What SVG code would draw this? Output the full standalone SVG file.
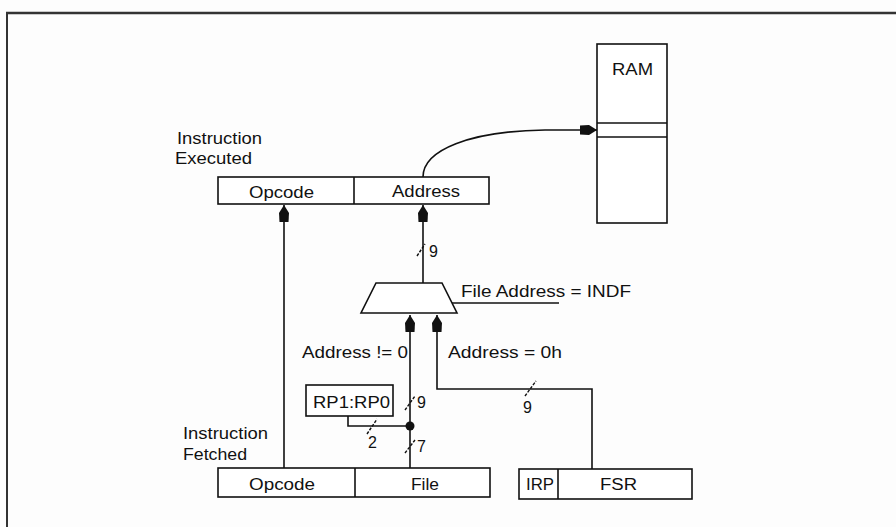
<svg xmlns="http://www.w3.org/2000/svg" width="896" height="527" viewBox="0 0 896 527">
<style>
text{font-family:"Liberation Sans",Arial,sans-serif;font-size:16px;fill:#111}
.c{text-anchor:middle}
.box{fill:#fff;stroke:#111;stroke-width:1.6}
.ln{fill:none;stroke:#111;stroke-width:1.6}
.sl{fill:none;stroke:#111;stroke-width:1.4;stroke-dasharray:3 1.5}
</style>
<defs>
<marker id="ah" markerUnits="userSpaceOnUse" viewBox="-18 -6 18 12" refX="0" refY="0" markerWidth="18" markerHeight="12" orient="auto">
<path d="M0,0 L-8,-5 L-17,-4.5 L-17,4.5 L-8,5 Z" fill="#111"/>
</marker>
</defs>
<rect width="896" height="527" fill="#fdfdfd"/>
<g id="frame">
<line x1="6" y1="13" x2="896" y2="13" stroke="#333" stroke-width="2.4"/>
<line x1="7" y1="12" x2="7" y2="527" stroke="#333" stroke-width="2"/>
</g>
<g id="ram">
<rect class="box" x="597" y="44" width="70" height="179"/>
<line class="ln" x1="597" y1="123" x2="667" y2="123"/>
<line class="ln" x1="597" y1="137" x2="667" y2="137"/>
<text x="612" y="75" textLength="41" lengthAdjust="spacingAndGlyphs">RAM</text>
</g>
<g id="exec-label">
<text x="177" y="144" textLength="85" lengthAdjust="spacingAndGlyphs">Instruction</text>
<text x="175" y="164" textLength="77" lengthAdjust="spacingAndGlyphs">Executed</text>
</g>
<g id="exec-reg">
<rect class="box" x="218" y="177" width="271" height="27"/>
<line class="ln" x1="354" y1="177" x2="354" y2="204"/>
<text x="249" y="198" textLength="65" lengthAdjust="spacingAndGlyphs">Opcode</text>
<text x="392" y="197" textLength="68" lengthAdjust="spacingAndGlyphs">Address</text>
</g>
<g id="mux">
<path class="box" d="M376,283 L442,283 L457,313 L361,313 Z"/>
<text x="461" y="297" textLength="170" lengthAdjust="spacingAndGlyphs">File Address = INDF</text>
</g>
<g id="rp">
<rect class="box" x="306" y="385" width="87" height="31"/>
<text x="313" y="408" textLength="77" lengthAdjust="spacingAndGlyphs">RP1:RP0</text>
</g>
<g id="fetch-label">
<text x="183" y="439" textLength="85" lengthAdjust="spacingAndGlyphs">Instruction</text>
<text x="183" y="460" textLength="64" lengthAdjust="spacingAndGlyphs">Fetched</text>
</g>
<g id="fetch-reg">
<rect class="box" x="218" y="468" width="272" height="29"/>
<line class="ln" x1="355" y1="468" x2="355" y2="497"/>
<text x="249" y="490" textLength="66" lengthAdjust="spacingAndGlyphs">Opcode</text>
<text x="411" y="490" textLength="28" lengthAdjust="spacingAndGlyphs">File</text>
</g>
<g id="fsr">
<rect class="box" x="519" y="469" width="173" height="30"/>
<line class="ln" x1="558" y1="469" x2="558" y2="499"/>
<text x="526" y="490" textLength="28" lengthAdjust="spacingAndGlyphs">IRP</text>
<text x="600" y="490" textLength="37" lengthAdjust="spacingAndGlyphs">FSR</text>
</g>
<g id="connectors">
<path class="ln" d="M423,177 C423,150 470,131 545,130 L597,130" marker-end="url(#ah)"/>
<line class="ln" x1="284" y1="468" x2="284" y2="205" marker-end="url(#ah)"/>
<line class="ln" x1="423" y1="283" x2="423" y2="205" marker-end="url(#ah)"/>
<line class="ln" x1="452" y1="303" x2="559" y2="303"/>
<line class="ln" x1="410" y1="468" x2="410" y2="315" marker-end="url(#ah)"/>
<path class="ln" d="M592,469 L592,389 L437,389 L437,315" marker-end="url(#ah)"/>
<path class="ln" d="M348,416 L348,426 L410,426"/>
<circle cx="410" cy="426" r="4.5" fill="#111"/>
<line class="sl" x1="417" y1="256" x2="425" y2="244"/>
<line class="sl" x1="405" y1="410" x2="415" y2="396"/>
<line class="sl" x1="405" y1="453" x2="415" y2="440"/>
<line class="sl" x1="367" y1="434" x2="377" y2="419"/>
<line class="sl" x1="525" y1="396" x2="536" y2="381"/>
</g>
<g id="bus-labels">
<text x="429" y="257">9</text>
<text x="302" y="358" textLength="106" lengthAdjust="spacingAndGlyphs">Address != 0</text>
<text x="448" y="358" textLength="114" lengthAdjust="spacingAndGlyphs">Address = 0h</text>
<text x="417" y="408">9</text>
<text x="523" y="413">9</text>
<text x="368" y="448">2</text>
<text x="417" y="452">7</text>
</g>
</svg>
